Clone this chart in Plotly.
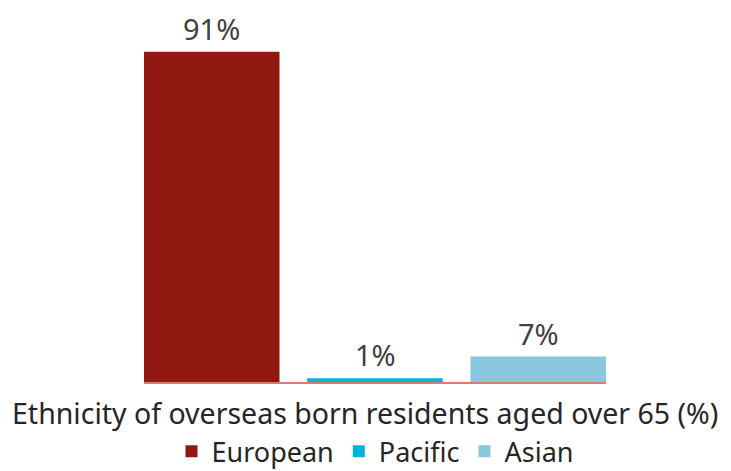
import plotly.graph_objects as go

categories = ["European", "Pacific", "Asian"]
values = [91, 1, 7]
colors = ["#921812", "#00b4d8", "#89c8dc"]
axis_title = "Ethnicity of overseas born residents aged over 65 (%)"

fig = go.Figure()
for c, v, col in zip(categories, values, colors):
    fig.add_trace(go.Bar(x=[c], y=[v], name=c, marker_color=col,
                         marker_line_width=0, width=0.83))

for c, v in zip(categories, values):
    fig.add_annotation(x=c, y=v, text=f"{v}%", showarrow=False,
                       xref="x", yref="y", yanchor="bottom", yshift=3,
                       borderpad=0,
                       font=dict(size=29, color="#404040"))

fig.add_annotation(x=0.478, y=-0.085, xref="paper", yref="paper",
                   text=axis_title, showarrow=False, yanchor="middle",
                   font=dict(size=28.5, color="#262626"))

fig.update_layout(
    width=731, height=471,
    margin=dict(l=136, r=133, t=11, b=97, autoexpand=False),
    paper_bgcolor="white", plot_bgcolor="white",
    barmode="overlay",
    font=dict(family="Noto Sans", color="#262626"),
    showlegend=True,
    legend=dict(orientation="h", x=0.5, xanchor="center", y=-0.192,
                yanchor="middle", font=dict(size=27, color="#262626"),
                itemwidth=30, tracegroupgap=0),
    xaxis=dict(showticklabels=False, showline=True, linecolor="#d47d78",
               linewidth=1.5, showgrid=False, zeroline=False, ticks="",
               range=[-0.415, 2.415]),
    yaxis=dict(range=[0, 100], visible=False),
)

fig.write_html("out.html")
